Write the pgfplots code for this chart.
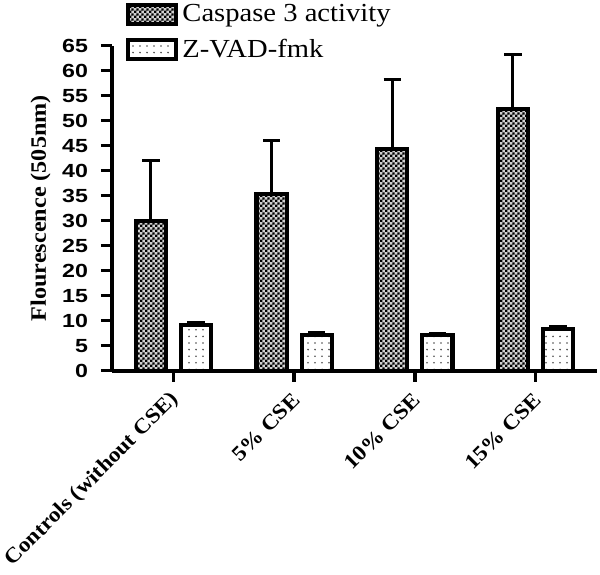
\documentclass[border=0pt]{standalone}
\usepackage{fontspec}
\setmainfont{Liberation Serif}
\newfontfamily\tickfont{Liberation Sans}[FakeStretch=1.22]
\newfontfamily\labfont{Liberation Serif}[FakeStretch=1.1]
\usepackage{pgfplots}
\pgfplotsset{compat=1.18}
\usetikzlibrary{patterns}

\pgfdeclarepatternformonly{finechecker}{\pgfpointorigin}{\pgfqpoint{2.6pt}{2.6pt}}{\pgfqpoint{2.6pt}{2.6pt}}{%
  \pgfpathrectangle{\pgfpointorigin}{\pgfqpoint{1.3pt}{1.3pt}}%
  \pgfpathrectangle{\pgfqpoint{1.3pt}{1.3pt}}{\pgfqpoint{1.3pt}{1.3pt}}%
  \pgfusepath{fill}}
\pgfdeclarepatternformonly{sparsedots}{\pgfqpoint{-0.5pt}{-0.5pt}}{\pgfqpoint{0.5pt}{0.5pt}}{\pgfqpoint{3.5pt}{3.3pt}}{%
  \pgfpathcircle{\pgfpointorigin}{0.45pt}\pgfusepath{fill}}

\begin{document}
\begin{tikzpicture}
\begin{axis}[
  scale only axis,
  width=242.5pt, height=162.5pt,
  axis lines=left,
  axis line style={-, line width=2.2pt},
  xmin=-0.51, xmax=3.51,
  ymin=0, ymax=65,
  ytick={0,5,...,65},
  xtick={0,1,2,3},
  xticklabels={Controls (without CSE), 5\% CSE, 10\% CSE, 15\% CSE},
  tick align=outside,
  major tick length=5.5pt,
  major tick style={line width=1.7pt, black},
  /pgf/number format/assume math mode=true,
  yticklabel style={font=\fontsize{9.5}{10}\tickfont\bfseries, xshift=-3pt},
  xticklabel style={font=\fontsize{10.6}{12}\labfont\bfseries, rotate=45, anchor=east, yshift=-6pt, xshift=-1pt},
  ylabel={Flourescence (505nm)},
  ylabel style={font=\fontsize{11}{12}\labfont\bfseries, at={(axis description cs:-0.147,0.5)}, anchor=center},
  ybar,
  bar width=0.25,
  legend style={at={(axis description cs:0.029,1.14)}, anchor=north west, draw=none, fill=none,
    inner sep=0pt, row sep=3pt, font=\fontsize{13}{14}\labfont},
  legend cell align=left,
  legend image code/.code={\draw[#1, line width=2pt] (0pt,-4.7pt) rectangle (24pt,4.7pt);},
]
\addplot[bar shift=-0.187, draw=black, line width=2.1pt, fill=black!18,
  postaction={pattern=finechecker, pattern color=black},
  error bars/.cd, y dir=plus, y explicit,
  error bar style={line width=1.5pt, black},
  error mark options={rotate=90, mark size=4.3pt, line width=1.5pt, black}]
  coordinates {(0,30.0) +- (0,12.0) (1,35.3) +- (0,10.8) (2,44.3) +- (0,14.0) (3,52.3) +- (0,10.9)};
\addlegendentry{Caspase 3 activity}
\addplot[bar shift=0.187, draw=black, line width=2.1pt, fill=white,
  postaction={pattern=sparsedots, pattern color=black!70},
  error bars/.cd, y dir=plus, y explicit,
  error bar style={line width=1.5pt, black},
  error mark options={rotate=90, mark size=4.3pt, line width=1.5pt, black}]
  coordinates {(0,9.1) +- (0,0.6) (1,7.1) +- (0,0.6) (2,7.1) +- (0,0.4) (3,8.3) +- (0,0.6)};
\addlegendentry{Z-VAD-fmk}
\end{axis}
\pgfresetboundingbox
\path[use as bounding box] ([xshift=-56pt,yshift=-101.65pt]current axis.south west) rectangle ++(300pt,287pt);
\end{tikzpicture}
\end{document}
